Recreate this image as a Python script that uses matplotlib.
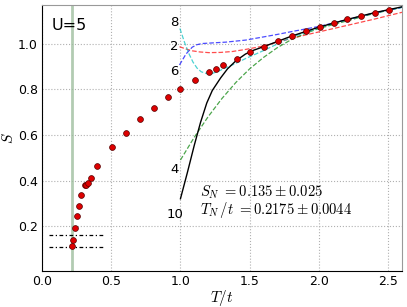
import numpy as np
import matplotlib
matplotlib.use("Agg")
import matplotlib.pyplot as plt

plt.rcParams['mathtext.fontset'] = 'cm'
plt.rcParams['font.family'] = 'DejaVu Sans'

# QMC data points (T/t, S)
T_data = [0.215, 0.225, 0.239, 0.256, 0.266, 0.283, 0.31, 0.317, 0.331, 0.355, 0.40,
          0.505, 0.606, 0.705, 0.807, 0.908, 1.0, 1.106, 1.208, 1.256, 1.307, 1.406,
          1.505, 1.604, 1.705, 1.807, 1.906, 2.005, 2.106, 2.205, 2.307, 2.406, 2.507]
S_data = [0.111, 0.14, 0.193, 0.245, 0.288, 0.337, 0.38, 0.379, 0.387, 0.41, 0.463,
          0.549, 0.609, 0.67, 0.719, 0.765, 0.80, 0.84, 0.875, 0.891, 0.907, 0.934,
          0.964, 0.987, 1.01, 1.034, 1.054, 1.073, 1.089, 1.107, 1.121, 1.136, 1.149]

# high temperature expansion, order 2
T_o2 = [0.993, 1.04, 1.085, 1.14, 1.205, 1.29, 1.375, 1.47, 1.6, 1.7, 1.8, 1.9, 2.0, 2.2, 2.4, 2.6]
S_o2 = [0.987, 0.977, 0.969, 0.964, 0.961, 0.962, 0.966, 0.975, 0.99, 1.007, 1.023, 1.038, 1.052, 1.08, 1.108, 1.138]
# order 4
T_o4 = [1.0, 1.1, 1.2, 1.3, 1.4, 1.5, 1.6, 1.7, 1.8, 1.9, 2.0, 2.2, 2.4, 2.6]
S_o4 = [0.49, 0.59, 0.68, 0.76, 0.83, 0.89, 0.94, 0.983, 1.018, 1.045, 1.067, 1.10, 1.133, 1.16]
# order 6
T_o6 = [0.993, 1.04, 1.085, 1.12, 1.157, 1.24, 1.326, 1.47, 1.6, 1.7, 1.8, 2.0, 2.2, 2.4, 2.6]
S_o6 = [0.907, 0.955, 0.985, 0.996, 1.001, 1.004, 1.007, 1.016, 1.03, 1.041, 1.053, 1.076, 1.105, 1.135, 1.16]
# order 8
T_o8 = [0.996, 1.03, 1.06, 1.09, 1.12, 1.15, 1.19, 1.23, 1.27, 1.31, 1.36, 1.40, 1.47, 1.6, 1.7, 1.8, 2.0, 2.2, 2.4, 2.6]
S_o8 = [1.067, 1.005, 0.958, 0.92, 0.893, 0.877, 0.869, 0.87, 0.878, 0.89, 0.903, 0.914, 0.935, 0.97, 0.999, 1.028, 1.07, 1.105, 1.135, 1.16]
# order 10
T_o10 = [1.0, 1.05, 1.10, 1.145, 1.19, 1.23, 1.29, 1.34, 1.40, 1.47, 1.53, 1.6, 1.7, 1.8, 1.9, 2.0, 2.2, 2.4, 2.6]
S_o10 = [0.32, 0.435, 0.555, 0.655, 0.74, 0.795, 0.85, 0.89, 0.925, 0.955, 0.972, 0.987, 1.01, 1.033, 1.053, 1.073, 1.106, 1.136, 1.162]

order_labels = ['8', '2', '6', '4', '10']
label_T = [0.955, 0.957, 0.957, 0.96, 0.96]
label_S = [1.093, 0.987, 0.877, 0.45, 0.253]

T_N = 0.2175
S_N = 0.135
S_N_err = 0.025

fig = plt.figure(figsize=(4.07, 3.07), dpi=100)
ax = fig.add_axes([0.1032, 0.1173, 0.8845, 0.8664])

ax.grid(True, color='#b0b0b0', linestyle=':', linewidth=0.8)
ax.set_axisbelow(True)

ax.axvline(T_N, color='#9fbf9f', linewidth=2, alpha=0.8, zorder=1)
for s in (S_N + S_N_err, S_N - S_N_err):
    ax.plot([0.05, 0.45], [s, s], color='k', linewidth=0.9,
            linestyle=(0, (3, 2, 1, 2)), zorder=2)

ax.plot(T_o2, S_o2, color='r', linestyle='--', linewidth=0.9, alpha=0.7, zorder=3)
ax.plot(T_o4, S_o4, color='g', linestyle='--', linewidth=0.9, alpha=0.7, zorder=3)
ax.plot(T_o6, S_o6, color='b', linestyle='--', linewidth=0.9, alpha=0.7, zorder=3)
ax.plot(T_o8, S_o8, color='c', linestyle='--', linewidth=0.9, alpha=0.7, zorder=3)
ax.plot(T_o10, S_o10, color='k', linestyle='-', linewidth=1.0, zorder=4)

ax.plot(T_data, S_data, 'o', color='#dd0000', markeredgecolor='#550000',
        markeredgewidth=0.5, markersize=4.2, zorder=5)

for lab, tx, sy in zip(order_labels, label_T, label_S):
    ax.text(tx, sy, lab, fontsize=9.5, ha='center', va='center')

ax.text(0.07, 1.08, 'U=5', fontsize=11.5, ha='left', va='center')
ax.text(1.14, 0.35, r'$S_N\ =0.135\pm0.025$', fontsize=10.5, ha='left', va='center')
ax.text(1.14, 0.27, r'$T_N\,/t\ =0.2175\pm0.0044$', fontsize=10.5, ha='left', va='center')

ax.set_xlim(0, 2.6)
ax.set_ylim(0.003, 1.17)
ax.set_xticks([0.0, 0.5, 1.0, 1.5, 2.0, 2.5])
ax.set_yticks([0.2, 0.4, 0.6, 0.8, 1.0])
ax.tick_params(length=0, labelsize=9, pad=3)
ax.set_xlabel(r'$T/t$', fontsize=11, labelpad=0)
ax.set_ylabel(r'$S$', fontsize=11, labelpad=1)

ax.spines['top'].set_color('#999999')
ax.spines['right'].set_color('#999999')
ax.spines['left'].set_color('k')
ax.spines['bottom'].set_color('k')

fig.savefig('out.png', dpi=100)
